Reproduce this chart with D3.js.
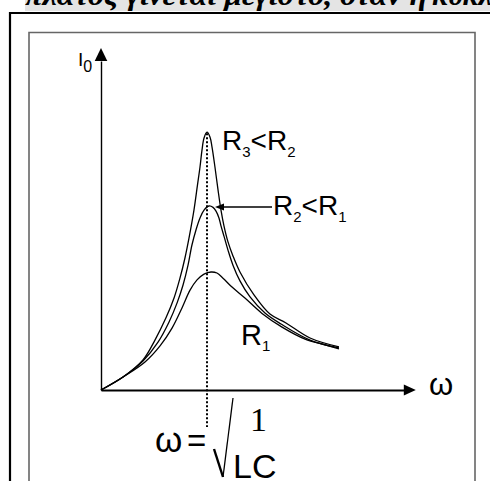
<!DOCTYPE html>
<html>
<head>
<meta charset="utf-8">
<script src="https://cdn.jsdelivr.net/npm/d3@7"></script>
<style>
  html, body { margin: 0; padding: 0; background: #fff; overflow: hidden; }
  svg { display: block; }
</style>
</head>
<body>
<svg id="chart" width="490" height="481"></svg>
<script>
// Resonance curves of a series RLC circuit: current amplitude I0 against ω
// for three resistances R1 > R2 > R3 (all peaking at ω0 = 1/√(LC)).

const omega0 = 1;               // resonance frequency (axis units)
const omegaAxisEnd = 2.97;      // arrow tip of the ω axis
const currentAxisEnd = 10;      // arrow tip of the I0 axis

const omegaR1   = [0, 0.208, 0.415, 0.557, 0.670, 0.764, 0.840, 0.906, 0.972, 1.038, 1.094, 1.151, 1.236, 1.358, 1.519, 1.708, 1.925, 2.113, 2.245];
const currentR1 = [0, 0.38, 0.82, 1.29, 1.81, 2.40, 2.92, 3.22, 3.39, 3.45, 3.42, 3.27, 3.01, 2.69, 2.24, 1.84, 1.49, 1.32, 1.20];

const omegaR2   = [0, 0.208, 0.396, 0.538, 0.642, 0.717, 0.774, 0.821, 0.858, 0.896, 0.934, 0.972, 1.019, 1.057, 1.085, 1.113, 1.132, 1.160, 1.198, 1.245, 1.311, 1.406, 1.547, 1.698, 1.972, 2.245];
const currentR2 = [0, 0.38, 0.85, 1.40, 1.99, 2.54, 3.07, 3.65, 4.24, 4.68, 5.03, 5.26, 5.38, 5.34, 5.23, 5.03, 4.80, 4.50, 4.09, 3.65, 3.19, 2.72, 2.25, 1.93, 1.46, 1.23];

const omegaR3   = [0, 0.208, 0.396, 0.509, 0.613, 0.689, 0.745, 0.792, 0.830, 0.877, 0.910, 0.934, 0.953, 0.972, 1.0, 1.028, 1.047, 1.075, 1.104, 1.132, 1.160, 1.198, 1.245, 1.311, 1.443, 1.594, 1.745, 1.972, 2.245];
const currentR3 = [0, 0.38, 0.88, 1.46, 2.11, 2.69, 3.27, 3.86, 4.44, 5.26, 5.99, 6.52, 7.02, 7.37, 7.54, 7.40, 7.11, 6.52, 5.85, 5.26, 4.80, 4.33, 3.92, 3.45, 2.78, 2.22, 1.96, 1.52, 1.26];

const svg = d3.select("#chart");
const SANS = "'Liberation Sans', Arial, sans-serif";
const SERIF = "'Liberation Serif', 'Times New Roman', serif";

// Page frame: heading strip, outer border and inner figure box
svg.append("rect").attr("x", 25).attr("y", 0).attr("width", 465).attr("height", 11).attr("fill", "#e4e4e4");
svg.append("text")
  .attr("x", 25).attr("y", 5)
  .attr("font-family", SERIF).attr("font-weight", "bold").attr("font-style", "italic")
  .attr("font-size", 30)
  .attr("textLength", 402).attr("lengthAdjust", "spacingAndGlyphs")
  .text("πλάτος γίνεται μέγιστο, όταν η");
svg.append("text")
  .attr("x", 432).attr("y", 5)
  .attr("font-family", SERIF).attr("font-weight", "bold").attr("font-style", "italic")
  .attr("font-size", 30)
  .text("κυκλική");

svg.append("path").attr("d", "M10,490 L10,13 L495,13")
  .attr("fill", "none").attr("stroke", "#000").attr("stroke-width", 2.2);
svg.append("path").attr("d", "M29,490 L29,32.5 L475,32.5 L475,490")
  .attr("fill", "none").attr("stroke", "#666").attr("stroke-width", 1.6);

// Scales
const x = d3.scaleLinear().domain([0, 3]).range([101, 419]);
const y = d3.scaleLinear().domain([0, currentAxisEnd]).range([390, 48]);

// Axes (no ticks), ending at the arrowheads
const xArrowLen = 12, yArrowLen = 13;
const xAxisScale = x.copy().domain([0, omegaAxisEnd]).range([x(0), x(omegaAxisEnd) - xArrowLen]);
const yAxisScale = y.copy().domain([0, currentAxisEnd]).range([y(0), y(currentAxisEnd) + yArrowLen]);

const gx = svg.append("g").attr("transform", `translate(0,${y(0)})`)
  .call(d3.axisBottom(xAxisScale).tickValues([]).tickSizeOuter(0));
gx.select(".domain").attr("stroke", "#000").attr("stroke-width", 2);

const gy = svg.append("g").attr("transform", `translate(${x(0)},0)`)
  .call(d3.axisLeft(yAxisScale).tickValues([]).tickSizeOuter(0));
gy.select(".domain").attr("stroke", "#000").attr("stroke-width", 1.4);

// Arrowheads
const xt = x(omegaAxisEnd), yt = y(currentAxisEnd);
svg.append("path")
  .attr("d", `M${xt},${y(0)} L${xt - xArrowLen},${y(0) - 5.5} L${xt - xArrowLen},${y(0) + 5.5} Z`)
  .attr("fill", "#000");
svg.append("path")
  .attr("d", `M${x(0)},${yt} L${x(0) - 6.3},${yt + yArrowLen} L${x(0) + 6.3},${yt + yArrowLen} Z`)
  .attr("fill", "#000");

// Dotted marker at the resonance frequency
svg.append("line")
  .attr("x1", x(omega0)).attr("x2", x(omega0))
  .attr("y1", y(d3.max(currentR3)) + 1).attr("y2", 427)
  .attr("stroke", "#000").attr("stroke-width", 2).attr("stroke-dasharray", "2,2");

// Resonance curves
const line = d3.line()
  .x(d => x(d[0])).y(d => y(d[1]))
  .curve(d3.curveCatmullRom.alpha(0.5));

[[omegaR1, currentR1], [omegaR2, currentR2], [omegaR3, currentR3]].forEach(([w, c]) => {
  svg.append("path")
    .datum(d3.zip(w, c))
    .attr("d", line)
    .attr("fill", "none").attr("stroke", "#000").attr("stroke-width", 1.3);
});

// Label helper: main letter followed by a lowered subscript
function subLabel(px, py, parts, size, subSize, drop) {
  const t = svg.append("text").attr("x", px).attr("y", py)
    .attr("font-family", SANS).attr("font-size", size).attr("fill", "#000");
  let lowered = false;
  parts.forEach(([str, isSub]) => {
    const s = t.append("tspan").text(str);
    if (isSub && !lowered) { s.attr("font-size", subSize).attr("dy", drop); lowered = true; }
    else if (isSub) { s.attr("font-size", subSize); }
    else if (lowered) { s.attr("dy", -drop); lowered = false; }
  });
  return t;
}

// Axis labels
subLabel(78, 66, [["I", false], ["0", true]], 19, 16, 6);
svg.append("text").attr("x", 429).attr("y", 395)
  .attr("font-family", SANS).attr("font-size", 31).text("ω");

// Curve labels
subLabel(222, 150, [["R", false], ["3", true], ["<R", false], ["2", true]], 28, 15, 7);
subLabel(273, 215, [["R", false], ["2", true], ["<R", false], ["1", true]], 28, 15, 7);
subLabel(241, 345, [["R", false], ["1", true]], 29, 15, 6);

// Arrow pointing at the R2 peak
const peakR2 = currentR2.indexOf(d3.max(currentR2));
const ax = x(omegaR2[peakR2]) + 6, ay = y(currentR2[peakR2]) + 1;
svg.append("line").attr("x1", 272).attr("x2", ax + 8).attr("y1", ay).attr("y2", ay)
  .attr("stroke", "#000").attr("stroke-width", 1.6);
svg.append("path").attr("d", `M${ax},${ay} L${ax + 9},${ay - 3.5} L${ax + 9},${ay + 3.5} Z`).attr("fill", "#000");

// Resonance condition ω = 1/√(LC)
svg.append("text").attr("x", 155).attr("y", 452)
  .attr("font-family", SANS).attr("font-size", 35).text("ω");
svg.append("text").attr("x", 187).attr("y", 452)
  .attr("font-family", SANS).attr("font-size", 33).text("=");
svg.append("text").attr("x", 250).attr("y", 431)
  .attr("font-family", SERIF).attr("font-size", 34).text("1");
svg.append("path").attr("d", "M214,449 L223,477")
  .attr("stroke", "#000").attr("stroke-width", 2.4).attr("fill", "none");
svg.append("path").attr("d", "M223,477 L233,398")
  .attr("stroke", "#000").attr("stroke-width", 1.3).attr("fill", "none");
svg.append("text").attr("x", 233).attr("y", 478)
  .attr("font-family", SANS).attr("font-size", 34).text("LC");
</script>
</body>
</html>
